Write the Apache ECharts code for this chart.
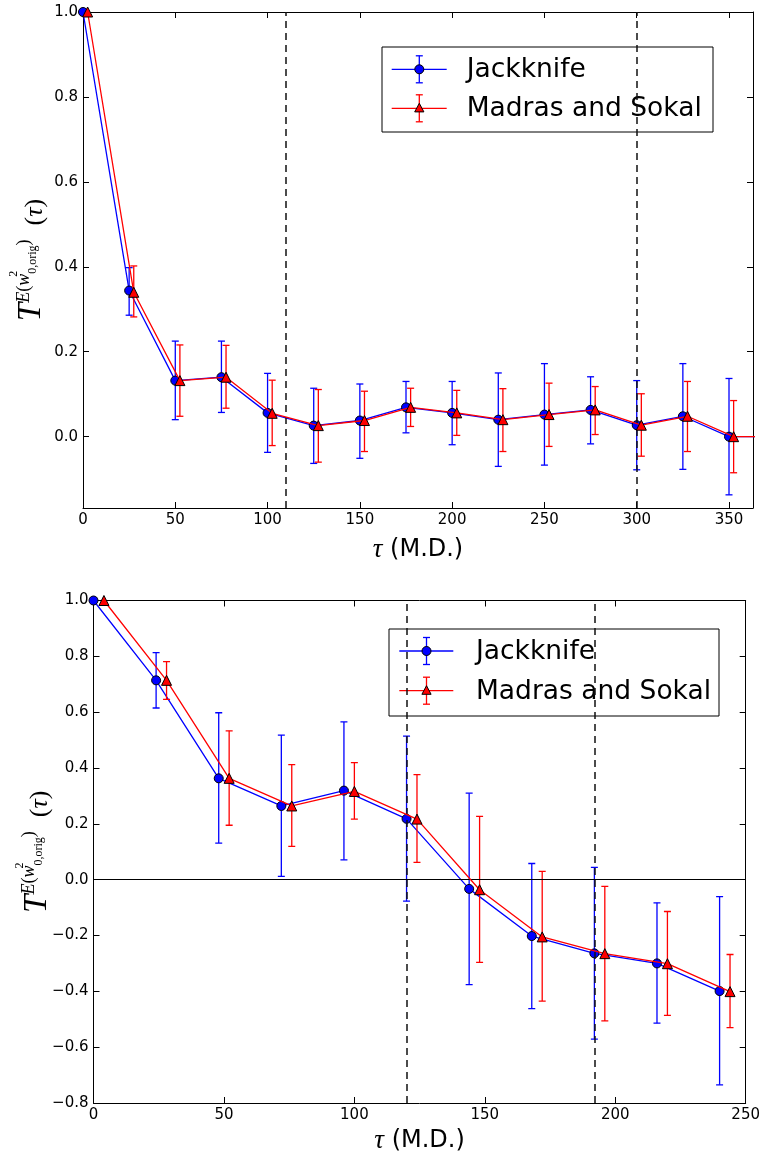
<!DOCTYPE html>
<html><head><meta charset="utf-8">
<script src="https://cdn.jsdelivr.net/npm/echarts@6/dist/echarts.min.js"></script>
<style>html,body{margin:0;padding:0;background:#fff}#c{width:763px;height:1156px}</style>
</head><body><div id="c"></div>
<script>
// ---------- Top panel data ----------
const topJkTau = [0,25,50,75,100,125,150,175,200,225,250,275,300,325,350,375];
const topJkVal = [1.0,0.344,0.132,0.140,0.056,0.026,0.038,0.069,0.056,0.040,0.052,0.063,0.027,0.048,0.0,0.0];
const topJkLo  = [null,0.286,0.040,0.057,-0.037,-0.063,-0.051,0.009,-0.019,-0.070,-0.067,-0.017,-0.078,-0.077,-0.137,null];
const topJkHi  = [null,0.398,0.225,0.225,0.149,0.114,0.124,0.130,0.130,0.150,0.172,0.141,0.132,0.172,0.137,null];
const topMsTau = [2.5,27.5,52.5,77.5,102.5,127.5,152.5,177.5,202.5,227.5,252.5,277.5,302.5,327.5,352.5,377.5];
const topMsVal = [1.0,0.340,0.132,0.140,0.055,0.026,0.038,0.069,0.056,0.040,0.052,0.063,0.027,0.048,0.0,0.0];
const topMsLo  = [null,0.282,0.048,0.067,-0.021,-0.060,-0.035,0.024,0.003,-0.035,-0.023,0.005,-0.046,-0.035,-0.085,null];
const topMsHi  = [null,0.402,0.216,0.215,0.133,0.111,0.107,0.114,0.109,0.113,0.126,0.118,0.101,0.130,0.085,null];
const topVLines = [110, 300];
const topXTicks = [0,50,100,150,200,250,300,350];
const topYTicks = [0.0,0.2,0.4,0.6,0.8,1.0];

// ---------- Bottom panel data ----------
const botJkTau = [0,24,48,72,96,120,144,168,192,216,240];
const botJkVal = [1.0,0.714,0.363,0.264,0.319,0.218,-0.033,-0.202,-0.264,-0.300,-0.399];
const botJkLo  = [null,0.615,0.131,0.012,0.071,-0.077,-0.376,-0.462,-0.571,-0.514,-0.735];
const botJkHi  = [null,0.813,0.598,0.518,0.565,0.514,0.310,0.058,0.044,-0.083,-0.061];
const botMsTau = [4,28,52,76,100,124,148,172,196,220,244];
const botMsVal = [1.0,0.714,0.363,0.264,0.316,0.217,-0.036,-0.205,-0.265,-0.301,-0.401];
const botMsLo  = [null,0.646,0.195,0.119,0.217,0.062,-0.296,-0.435,-0.506,-0.486,-0.530];
const botMsHi  = [null,0.781,0.533,0.412,0.419,0.376,0.227,0.030,-0.024,-0.114,-0.268];
const botVLines = [120, 192];
const botXTicks = [0,50,100,150,200,250];
const botYTicks = [-0.8,-0.6,-0.4,-0.2,0.0,0.2,0.4,0.6,0.8,1.0];

const legendNames = ['Jackknife', 'Madras and Sokal'];

const BLUE = '#0000ff', RED = '#ff0000';

function pairs(xs, ys){ return xs.map((x,i)=>[x, ys[i]]); }
function bars(xs, lo, hi){ const o=[]; xs.forEach((x,i)=>{ if(lo[i]!=null && hi[i]!=null) o.push([x, lo[i], hi[i]]); }); return o; }
function fmtY(v){ return (v < -1e-9 ? '\u2212' : '') + Math.abs(v).toFixed(1); }

function errSeries(xi, yi, data, color, z){
  return {
    type:'custom', xAxisIndex:xi, yAxisIndex:yi, data, z, clip:true, silent:true,
    encode:{x:0, y:[1,2]},
    renderItem:function(params, api){
      const x = api.value(0), lo = api.value(1), hi = api.value(2);
      const a = api.coord([x, lo]), b = api.coord([x, hi]);
      const w = 3.5, st = {stroke:color, lineWidth:1.3, fill:null};
      return {type:'group', children:[
        {type:'line', shape:{x1:a[0],y1:a[1],x2:b[0],y2:b[1]}, style:st},
        {type:'line', shape:{x1:a[0]-w,y1:a[1],x2:a[0]+w,y2:a[1]}, style:st},
        {type:'line', shape:{x1:b[0]-w,y1:b[1],x2:b[0]+w,y2:b[1]}, style:st}
      ]};
    }
  };
}
function lineSeries(xi, yi, data, color, symbol, size, z){
  return {
    type:'line', xAxisIndex:xi, yAxisIndex:yi, data, z, clip:true, silent:true,
    symbol, symbolSize:size, showSymbol:true,
    lineStyle:{color, width:1.3},
    itemStyle:{color, borderColor:'#000', borderWidth:1},
    emphasis:{disabled:true}
  };
}
function vlineSeries(xi, yi, xs){
  return {
    type:'line', xAxisIndex:xi, yAxisIndex:yi, data:[], z:20, silent:true,
    markLine:{silent:true, symbol:['none','none'], label:{show:false}, animation:false,
      lineStyle:{color:'#111', width:1.5, type:[7,5], opacity:1},
      emphasis:{disabled:true},
      data: xs.map(v=>({xAxis:v}))}
  };
}

const tickStyle = {show:true, inside:true, length:6, lineStyle:{color:'#000', width:1}};
const lineStyleAx = {show:true, onZero:false, lineStyle:{color:'#000', width:1}};
const labelFont = {color:'#000', fontSize:15, fontFamily:'DejaVu Sans'};

const xName = '{t|\u03c4}{n| (M.D.)}';
const xNameRich = {
  t:{fontFamily:'Liberation Serif', fontStyle:'italic', fontSize:27, color:'#000'},
  n:{fontFamily:'DejaVu Sans', fontSize:24, color:'#000'}
};
const yName = '{T|T}{si|E}{s|(}{si|w}{sup|2}{sub|0,orig}{s|)}{gap| }{p|(}{t|\u03c4}{p|)}';
const yNameRich = {
  T:{fontFamily:'Liberation Serif', fontStyle:'italic', fontSize:33, lineHeight:34, verticalAlign:'bottom', color:'#000'},
  si:{fontFamily:'Liberation Serif', fontStyle:'italic', fontSize:18, lineHeight:18, padding:[0,0,15,0], verticalAlign:'bottom', color:'#000'},
  s:{fontFamily:'Liberation Serif', fontSize:18, lineHeight:18, padding:[0,0,15,0], verticalAlign:'bottom', color:'#000'},
  sup:{fontFamily:'Liberation Serif', fontSize:12, lineHeight:12, padding:[0,0,28,0], verticalAlign:'bottom', color:'#000', width:0},
  sub:{fontFamily:'Liberation Serif', fontSize:12, lineHeight:12, padding:[0,0,9,0], verticalAlign:'bottom', color:'#000'},
  gap:{fontSize:10, width:14, lineHeight:10, verticalAlign:'bottom'},
  p:{fontFamily:'Liberation Serif', fontSize:26, lineHeight:34, verticalAlign:'bottom', color:'#000'},
  t:{fontFamily:'Liberation Serif', fontStyle:'italic', fontSize:26, lineHeight:34, verticalAlign:'bottom', color:'#000'}
};

function xAxes(gi, min, max, ticks, gap){
  return [
    {gridIndex:gi, type:'value', position:'bottom', min, max, axisLine:lineStyleAx,
     axisTick:Object.assign({customValues:ticks}, tickStyle),
     axisLabel:Object.assign({customValues:ticks, margin:5, formatter:v=>String(Math.round(v))}, labelFont),
     splitLine:{show:false}, name:xName, nameLocation:'middle', nameGap:gap, nameMoveOverlap:false,
     nameTextStyle:{rich:xNameRich}},
    {gridIndex:gi, type:'value', position:'top', min, max, axisLine:lineStyleAx,
     axisTick:Object.assign({customValues:ticks}, tickStyle),
     axisLabel:{show:false}, splitLine:{show:false}}
  ];
}
function yAxes(gi, min, max, ticks, gap){
  return [
    {gridIndex:gi, type:'value', position:'left', min, max, axisLine:lineStyleAx,
     axisTick:Object.assign({customValues:ticks}, tickStyle),
     axisLabel:Object.assign({customValues:ticks, margin:5, formatter:fmtY}, labelFont),
     splitLine:{show:false}, name:yName, nameLocation:'middle', nameRotate:90, nameGap:gap, nameMoveOverlap:false,
     nameTextStyle:{rich:yNameRich}},
    {gridIndex:gi, type:'value', position:'right', min, max, axisLine:lineStyleAx,
     axisTick:Object.assign({customValues:ticks}, tickStyle),
     axisLabel:{show:false}, splitLine:{show:false}}
  ];
}

function legendGraphic(bx, by, bw, bh, r1, r2, lx1, lx2, mx, tx){
  const els = [];
  els.push({type:'rect', shape:{x:bx, y:by, width:bw, height:bh}, style:{fill:'#fff', stroke:'#000', lineWidth:1}});
  const rows = [[r1, BLUE, 'circle', legendNames[0]], [r2, RED, 'tri', legendNames[1]]];
  rows.forEach(([ry, col, mk, txt])=>{
    els.push({type:'line', shape:{x1:lx1, y1:ry, x2:lx2, y2:ry}, style:{stroke:col, lineWidth:1.3}});
    els.push({type:'line', shape:{x1:mx, y1:ry-13.5, x2:mx, y2:ry+13.5}, style:{stroke:col, lineWidth:1.3}});
    els.push({type:'line', shape:{x1:mx-3.5, y1:ry-13.5, x2:mx+3.5, y2:ry-13.5}, style:{stroke:col, lineWidth:1.3}});
    els.push({type:'line', shape:{x1:mx-3.5, y1:ry+13.5, x2:mx+3.5, y2:ry+13.5}, style:{stroke:col, lineWidth:1.3}});
    if (mk === 'circle') {
      els.push({type:'circle', shape:{cx:mx, cy:ry, r:4.5}, style:{fill:col, stroke:'#000', lineWidth:1}});
    } else {
      els.push({type:'polygon', shape:{points:[[mx, ry-5],[mx-4.6, ry+3.6],[mx+4.6, ry+3.6]]}, style:{fill:col, stroke:'#000', lineWidth:1}});
    }
    els.push({type:'text', x:tx, y:ry+1, style:{text:txt, fill:'#000', font:'26.5px "DejaVu Sans"', verticalAlign:'middle', align:'left'}});
  });
  return {type:'group', z:100, silent:true, children:els};
}

const option = {
  animation:false,
  backgroundColor:'#fff',
  grid:[
    {left:82, top:12, width:671, height:496},
    {left:93.5, top:600.5, width:653, height:502.5}
  ],
  xAxis:[...xAxes(0, 0, 363, topXTicks, 28), ...xAxes(1, 0, 250, botXTicks, 24)],
  yAxis:[...yAxes(0, -0.168, 1.0, topYTicks, 35), ...yAxes(1, -0.8, 1.0, botYTicks, 40)],
  series:[
    errSeries(0, 0, bars(topJkTau, topJkLo, topJkHi), BLUE, 2),
    lineSeries(0, 0, pairs(topJkTau, topJkVal), BLUE, 'circle', 9, 3),
    errSeries(0, 0, bars(topMsTau, topMsLo, topMsHi), RED, 4),
    lineSeries(0, 0, pairs(topMsTau, topMsVal), RED, 'triangle', 10, 5),
    vlineSeries(0, 0, topVLines),
    {type:'line', xAxisIndex:2, yAxisIndex:2, data:[], z:1, silent:true,
     markLine:{silent:true, symbol:['none','none'], label:{show:false}, animation:false,
       lineStyle:{color:'#000', width:1.1, type:'solid'}, emphasis:{disabled:true}, data:[{yAxis:0}]}},
    errSeries(2, 2, bars(botJkTau, botJkLo, botJkHi), BLUE, 2),
    lineSeries(2, 2, pairs(botJkTau, botJkVal), BLUE, 'circle', 9, 3),
    errSeries(2, 2, bars(botMsTau, botMsLo, botMsHi), RED, 4),
    lineSeries(2, 2, pairs(botMsTau, botMsVal), RED, 'triangle', 10, 5),
    vlineSeries(2, 2, botVLines)
  ],
  graphic:[
    legendGraphic(382, 47, 331, 85, 69.3, 108.3, 391.7, 446.7, 419.3, 466.7),
    legendGraphic(389, 629, 330, 87, 651, 690.7, 399.3, 453.3, 426.5, 476)
  ]
};

const chart = echarts.init(document.getElementById('c'));
chart.setOption(option);
</script>
</body></html>
